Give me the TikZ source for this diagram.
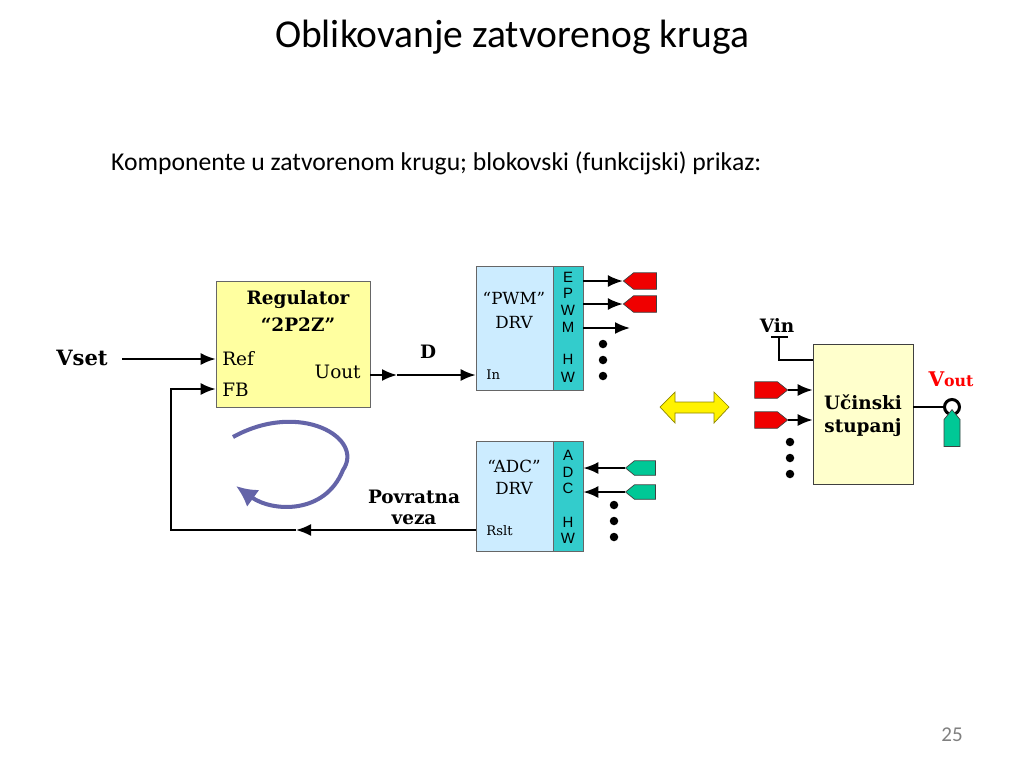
\documentclass[tikz,border=0pt]{standalone}
\usepackage{fontspec}
\setmainfont{Carlito}
\newfontfamily\bookfont{DejaVu Serif}
\newfontfamily\armfont{Liberation Sans}
\usetikzlibrary{arrows.meta, calc, shapes.symbols}
\definecolor{regyel}{RGB}{255,255,160}
\definecolor{stageyel}{RGB}{255,255,204}
\definecolor{drvblue}{RGB}{204,236,255}
\definecolor{hwteal}{RGB}{51,204,204}
\definecolor{tagred}{RGB}{240,0,0}
\definecolor{taggreen}{RGB}{0,200,150}
\definecolor{loopblue}{RGB}{100,100,168}

\begin{document}
\begin{tikzpicture}[x=0.02cm, y=-0.02cm,
    blk/.style={draw=gray!80!black, inner sep=0pt},
    hwlbl/.style={font=\armfont\fontsize{8.5}{10}\selectfont, inner sep=0pt},
    btxt/.style={font=\bookfont\bfseries\fontsize{10.5}{12}\selectfont, inner sep=0pt},
    rtxt/.style={font=\bookfont\fontsize{9.5}{11}\selectfont, inner sep=0pt},
    tag/.style={signal, draw=black!75, inner sep=0pt, signal pointer angle=78},
    redtag/.style={tag, fill=tagred, minimum width=0.66cm, minimum height=0.33cm},
    grntag/.style={tag, fill=taggreen, minimum width=0.6cm, minimum height=0.29cm},
    dot/.style={circle, fill, inner sep=0pt, minimum size=0.17cm},
    arr/.style={-{Latex[length=0.3cm, width=0.24cm]}, line width=1.1pt}]
      \useasboundingbox (0,0) rectangle (1024,768);

      \node[font=\fontsize{22.5}{26}\selectfont] (title) at (512,37) {Oblikovanje zatvorenog kruga};
      \node[font=\fontsize{14.6}{17}\selectfont, anchor=west] (subtitle) at (105,163) {Komponente u zatvorenom krugu; blokovski (funkcijski) prikaz:};
      \node[gray, font=\fontsize{12}{14}\selectfont] (pagenum) at (952,735) {25};

      \node[blk, fill=regyel, minimum width=3.08cm, minimum height=2.52cm] (reg) at (293,344) {};
      \node[btxt] (regname) at (298,300) {Regulator};
      \node[btxt] (regtype) at (298,325) {“2P2Z”};
      \node[rtxt, font=\bookfont\fontsize{10.5}{12}\selectfont, anchor=west] (ref) at (222,359) {Ref};
      \node[rtxt, font=\bookfont\fontsize{10.5}{12}\selectfont, anchor=west] (fb) at (222,390) {FB};
      \node[rtxt, font=\bookfont\fontsize{10.5}{12}\selectfont, anchor=east] (uout) at (361,372) {Uout};

      \node[btxt, font=\bookfont\bfseries\fontsize{12}{14}\selectfont] (vset) at (82,358) {Vset};
      \coordinate (vsetend) at (122,359);
      \draw[arr] (vsetend) -- (reg.west |- vsetend);

      \node[blk, fill=drvblue, minimum width=1.54cm, minimum height=2.48cm] (pwm) at (514.5,328) {};
      \node[blk, fill=hwteal, minimum width=0.6cm, minimum height=2.48cm] (pwmhw) at (568,328) {};
      \node[rtxt] (pwmname) at (514,298) {“PWM”};
      \node[rtxt] (pwmdrv) at (514,322) {DRV};
      \node[rtxt, font=\bookfont\fontsize{7.5}{9}\selectfont, anchor=west] (pwmin) at (486,375) {In};
      \foreach \l/\y in {E/277,P/293,W/310,M/327,H/359,W/377}
        \node[hwlbl] (pwmhw-\y) at (568,\y) {\l};

      \coordinate (dmid) at (397,375);
      \draw[arr] (reg.east |- dmid) -- (dmid);
      \draw[arr] (dmid) -- (pwm.west |- dmid);
      \node[btxt] (dlbl) at (428,352) {D};

      \node[redtag, signal to=west] (pwmtag1) at (645,281) {};
      \node[redtag, signal to=west] (pwmtag2) at (645,304) {};
      \coordinate (pwmend3) at (630,328);
      \draw[arr] (pwmhw.east |- pwmtag1) -- (pwmtag1.west);
      \draw[arr] (pwmhw.east |- pwmtag2) -- (pwmtag2.west);
      \draw[arr] (pwmhw.east |- pwmend3) -- (pwmend3);
      \foreach \y [count=\i] in {344,360,376}
        \node[dot] (pwmdot\i) at (603,\y) {};

      \node[blk, fill=drvblue, minimum width=1.54cm, minimum height=2.2cm] (adc) at (514.5,496) {};
      \node[blk, fill=hwteal, minimum width=0.6cm, minimum height=2.2cm] (adchw) at (568,496) {};
      \node[rtxt] (adcname) at (514,466) {“ADC”};
      \node[rtxt] (adcdrv) at (514,488) {DRV};
      \node[rtxt, font=\bookfont\fontsize{7.5}{9}\selectfont, anchor=west] (adcrslt) at (486,531) {Rslt};
      \foreach \l/\y in {A/455,D/472,C/488,H/522,W/538}
        \node[hwlbl] (adchw-\y) at (568,\y) {\l};

      \node[grntag, signal to=west] (adctag1) at (645,468) {};
      \node[grntag, signal to=west] (adctag2) at (645,492) {};
      \draw[arr] (adctag1.west) -- (adchw.east |- adctag1);
      \draw[arr] (adctag2.west) -- (adchw.east |- adctag2);
      \foreach \y [count=\i] in {505,521,537}
        \node[dot] (adcdot\i) at (614,\y) {};

      \coordinate (fbmid) at (296,530);
      \coordinate (fbcorner) at (171,530);
      \draw[arr] (adc.west |- fbmid) -- (fbmid);
      \draw[arr] (fbmid) -- (fbcorner) |- (reg.west |- 0,389);
      \node[btxt] (povratna) at (414,497) {Povratna};
      \node[btxt] (veza) at (414,520) {veza};

      \draw[loopblue, line width=2.3pt, -{Latex[length=0.42cm, width=0.42cm]}] (233,437) .. controls (300,400) and (365,438) .. (343,470) .. controls (325,515) and (272,512) .. (236,486);

      \filldraw[fill=yellow, draw=olive] (660,407) -- (675,392) -- (675,402) -- (714,402) -- (714,392) -- (729,407) -- (714,423) -- (714,413) -- (675,413) -- (675,423) -- cycle;

      \node[draw=black!75, fill=stageyel, minimum width=2cm, minimum height=2.8cm] (stage) at (863,414) {};
      \node[btxt] (stage1) at (863,402) {Učinski};
      \node[btxt] (stage2) at (863,428) {stupanj};

      \node[btxt] (vin) at (777,325) {Vin};
      \coordinate (vinl) at (771,337);
      \coordinate (vinr) at (788,337);
      \coordinate (vintop) at (779,337);
      \draw[line width=1.1pt] (vinl) -- (vinr);
      \draw[line width=1.1pt] (vintop) |- ($(stage.north west)+(0,16)$);

      \node[redtag, signal to=east] (stagetag1) at (766,390) {};
      \node[redtag, signal to=east] (stagetag2) at (766,420) {};
      \draw[arr] (stagetag1.east) -- (stage.west |- stagetag1);
      \draw[arr] (stagetag2.east) -- (stage.west |- stagetag2);
      \foreach \y [count=\i] in {442,458,474}
        \node[dot] (stagedot\i) at (790,\y) {};

      \node[circle, draw, line width=1.7pt, minimum size=0.3cm, inner sep=0pt] (voutpin) at (952,407) {};
      \draw[line width=1.1pt] (stage.east |- voutpin) -- (voutpin.west);
      \node[grntag, signal to=north, minimum width=0.32cm, minimum height=0.54cm] (vouttag) at (952,433) {};
      \node[btxt, text=red, font=\bookfont\bfseries\fontsize{11.5}{13}\selectfont] (voutlbl) at (951,379) {V{\fontsize{9}{10}\selectfont out}};
    \end{tikzpicture}
\end{document}
